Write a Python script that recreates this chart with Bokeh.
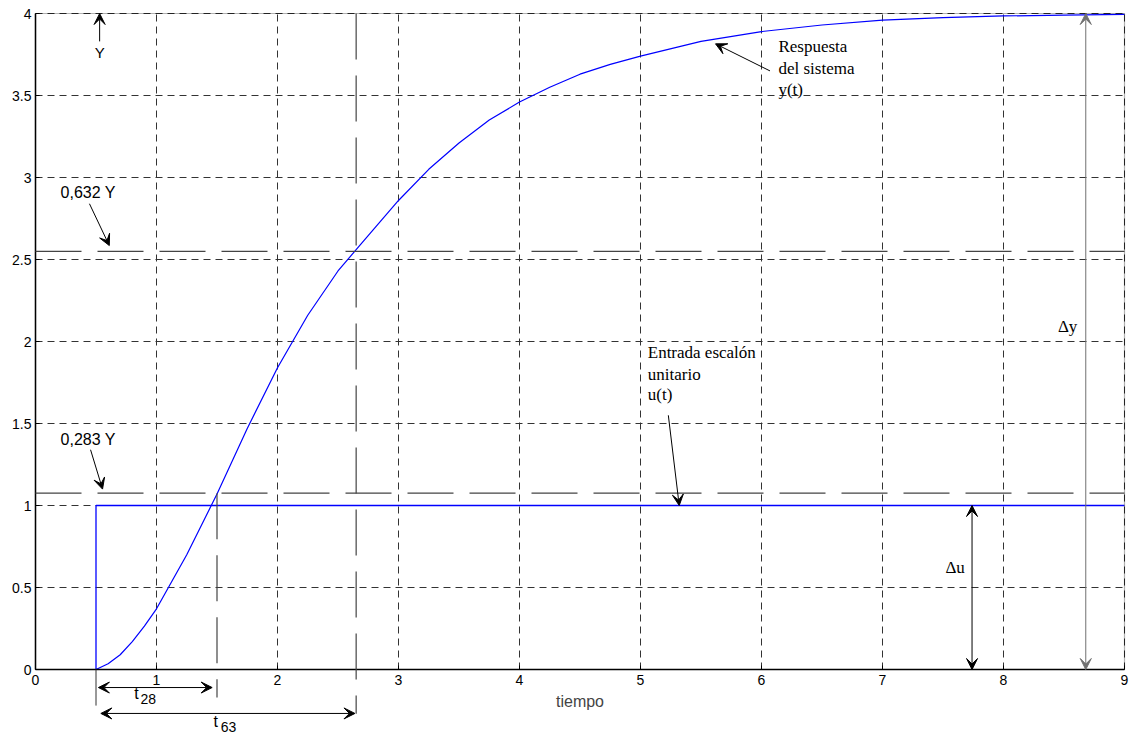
from bokeh.plotting import figure
from bokeh.models import (Range1d, FixedTicker, CustomJSTickFormatter, Arrow, VeeHead,
                          Label, BoxAnnotation, Grid)
from bokeh.embed import file_html
from bokeh.resources import INLINE

# ---- data ----
t_resp = [0.5, 0.6, 0.7, 0.8, 0.9, 1.0, 1.25, 1.5, 1.75, 2.0, 2.25, 2.5, 2.65, 3.0, 3.25,
          3.5, 3.75, 4.0, 4.25, 4.5, 4.75, 5.0, 5.5, 6.0, 6.5, 7.0, 7.5, 8.0, 8.5, 9.0]
y_resp = [0.0, 0.035, 0.09, 0.17, 0.265, 0.37, 0.70, 1.07, 1.47, 1.84, 2.16, 2.43, 2.56, 2.86,
          3.05, 3.21, 3.35, 3.46, 3.55, 3.63, 3.69, 3.74, 3.83, 3.89, 3.93, 3.96, 3.975,
          3.985, 3.99, 3.995]
t_step = [0.5, 0.5, 9.0]
u_step = [0.0, 1.0, 1.0]

x_ticks = [0, 1, 2, 3, 4, 5, 6, 7, 8, 9]
y_ticks = [0, 0.5, 1, 1.5, 2, 2.5, 3, 3.5, 4]

T_end = 9.0
Y_final = 4.0
level_63 = 2.55   # 0,632 Y line as drawn
level_28 = 1.075  # 0,283 Y line as drawn
t_start = 0.5
t_28 = 1.5
t_63 = 2.65

# The frame covers the whole canvas; both axes are pinned at 0 (fixed_location),
# so the construction marks below and left of the axes box can be drawn.
FW, FH = 1131, 735
X0_PX, Y0_PX, SX, SY = 35, 669, 121.0, 164.0
p = figure(frame_width=FW, frame_height=FH, output_backend="svg", toolbar_location=None,
           x_range=Range1d(-X0_PX / SX, (FW - X0_PX) / SX),
           y_range=Range1d(-(FH - Y0_PX) / SY, Y0_PX / SY),
           min_border=0, background_fill_color="white", border_fill_color="white")
p.outline_line_color = None

for ax, ticks, bnds in ((p.xaxis[0], x_ticks, (0, T_end)), (p.yaxis[0], y_ticks, (0, Y_final))):
    ax.ticker = FixedTicker(ticks=ticks)
    ax.formatter = CustomJSTickFormatter(code="return String(tick)")
    ax.fixed_location = 0
    ax.bounds = bnds
    ax.major_tick_in = 4
    ax.major_tick_out = 0
    ax.minor_tick_in = 0
    ax.minor_tick_out = 0
    ax.axis_line_width = 1.5
    ax.axis_line_color = "black"
    ax.major_tick_line_color = "black"
    ax.major_label_text_font = "Liberation Sans"
    ax.major_label_text_font_size = "14px"
    ax.major_label_text_color = "black"

p.xaxis.major_label_standoff = 5
p.yaxis.major_label_standoff = 4
p.xaxis.axis_label = "tiempo"
p.xaxis.axis_label_text_font = "Liberation Sans"
p.xaxis.axis_label_text_font_style = "normal"
p.xaxis.axis_label_text_font_size = "16px"
p.xaxis.axis_label_standoff = 5

grid_style = dict(line_color="#333333", line_dash="7 5", line_width=1)
if "cross_bounds" in Grid.properties():
    for g, ticks, b, cb in ((p.xgrid[0], x_ticks, (0, T_end), (0, Y_final)),
                            (p.ygrid[0], y_ticks, (0, Y_final), (0, T_end))):
        g.ticker = FixedTicker(ticks=ticks)
        g.bounds = b
        g.cross_bounds = cb
        g.grid_line_color = grid_style["line_color"]
        g.grid_line_dash = grid_style["line_dash"]
        g.grid_line_width = grid_style["line_width"]
else:
    p.xgrid.visible = False
    p.ygrid.visible = False
    p.segment(x0=x_ticks, y0=[0] * len(x_ticks), x1=x_ticks, y1=[Y_final] * len(x_ticks),
              level="underlay", **grid_style)
    p.segment(x0=[0] * len(y_ticks), y0=y_ticks, x1=[T_end] * len(y_ticks), y1=y_ticks,
              level="underlay", **grid_style)

# axes box
p.add_layout(BoxAnnotation(left=0, right=T_end, bottom=0, top=Y_final, fill_alpha=0,
                           fill_color=None, line_color="black", line_width=1.2))

def seg(x0, y0, x1, y1, color="#444444", dash="solid", width=1.2):
    p.add_layout(Arrow(start=None, end=None, x_start=x0, y_start=y0, x_end=x1, y_end=y1,
                       line_color=color, line_dash=dash, line_width=width))

# reference levels (0,632 Y and 0,283 Y)
for lv in (level_63, level_28):
    seg(0, lv, T_end, lv, dash="46 16", width=1.3)

# vertical construction lines
seg(t_start, 0, t_start, -0.22, color="#333333", width=1)
seg(t_28, level_28, t_28, -0.17, dash="46 16")
seg(t_63, Y_final, t_63, -0.27, dash="46 16")

# curves
p.line(t_resp, y_resp, line_color="#0000FF", line_width=1.2)
p.line(t_step, u_step, line_color="#0000FF", line_width=1.3)

def arrow(x0, y0, x1, y1, both=False, color="black", size=11):
    head = lambda: VeeHead(size=size, fill_color=color, line_color=color, line_width=1)
    p.add_layout(Arrow(start=head() if both else None, end=head(),
                       x_start=x0, y_start=y0, x_end=x1, y_end=y1,
                       line_color=color, line_width=1))

arrow(0.53, 3.83, 0.53, Y_final)                 # Y
arrow(0.446, 2.84, 0.61, 2.585)                  # 0,632 Y
arrow(0.455, 1.34, 0.554, 1.10)                  # 0,283 Y
arrow(6.07, 3.65, 5.62, 3.815)                   # Respuesta
arrow(5.23, 1.55, 5.32, 1.0)                     # Entrada
arrow(7.74, 0.0, 7.74, 1.0, both=True)           # delta u
arrow(8.68, 0.0, 8.68, Y_final, both=True, color="#707070")  # delta y
arrow(0.52, -0.11, 1.46, -0.11, both=True)       # t28
arrow(0.54, -0.268, 2.64, -0.268, both=True)     # t63

def label(x, y, text, font="Liberation Sans", size="16px", align="left"):
    p.add_layout(Label(x=x, y=y, text=text, text_font=font, text_font_size=size,
                       text_align=align, text_baseline="middle", text_color="black"))

label(0.53, 3.76, "Y", size="15px", align="center")
label(0.207, 2.91, "0,632 Y")
label(0.207, 1.40, "0,283 Y")

serif = "Liberation Serif"
label(6.14, 3.80, "Respuesta", font=serif, size="17px")
label(6.14, 3.665, "del sistema", font=serif, size="17px")
label(6.14, 3.535, "y(t)", font=serif, size="17px")
label(5.06, 1.93, "Entrada escalón", font=serif, size="17px")
label(5.06, 1.80, "unitario", font=serif, size="17px")
label(5.06, 1.675, "u(t)", font=serif, size="17px")
label(7.60, 0.62, "\u0394u", font=serif, size="17px", align="center")
label(8.53, 2.09, "\u0394y", font=serif, size="17px", align="center")

label(0.835, -0.146, "t", size="16px", align="center")
label(0.868, -0.180, "28", size="14px")
label(1.49, -0.318, "t", size="16px", align="center")
label(1.53, -0.350, "63", size="14px")

open("out.html", "w").write(file_html(p, INLINE))
